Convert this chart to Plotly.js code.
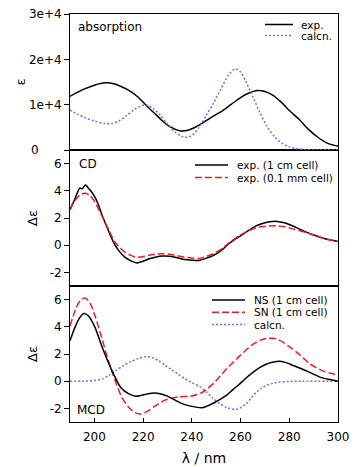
<!DOCTYPE html>
<html>
<head>
<meta charset="utf-8">
<script src="https://cdn.plot.ly/plotly-3.0.1.min.js"></script>
<style>html,body{margin:0;padding:0;background:#fff;}#chart{width:354px;height:467px;}</style>
</head>
<body>
<div id="chart"></div>
<script>
// ---------- Absorption panel ----------
const absExpLam = [190,193,196,200,204.5,208,211,215,218,221,225,228,231,235,238,241,244,248,252,256,260,263,267,270,273,277,280,284,288,292,296,300];
const absExpEps = [11850,12700,13480,14300,14810,14600,14000,12900,11630,10000,7930,6400,5150,4250,4300,4900,5800,7200,8450,10000,11550,12450,13100,12900,12150,10400,8700,6800,4500,2700,1400,850];

const absCalcLam = [190,193,196,200,204,207,210,213,216,219,221.5,224,227,230,233,236,238,240,243,246,249,252,255,257.8,260,262,265,268,271,274,277,280,283,287,292,300];
const absCalcEps = [8820,7900,7180,6400,5850,5800,6400,7500,8800,9700,9950,9200,7700,5700,4000,3000,2800,3200,5000,7700,10400,13500,16500,17900,17200,15300,11800,8200,5100,2900,1500,700,300,80,0,0];

// ---------- CD panel ----------
const cdExp1Lam = [190,191,192,193,194,195,196.4,197.5,198.5,200,201.5,203,205,207,208.5,210,212.5,215,217.5,220,222.5,225,228,231,234,237,240,243,246,249,252,254.5,257,260,263,266,269,272,275,278,281,284,287,290,293,296,300];
const cdExp1De  = [2.62,3.0,3.4,3.85,4.2,4.15,4.43,4.2,4.0,3.6,3.05,2.3,1.4,0.55,0.0,-0.4,-0.88,-1.15,-1.3,-1.18,-1.0,-0.88,-0.8,-0.82,-0.92,-1.05,-1.1,-1.12,-0.95,-0.74,-0.4,0.0,0.35,0.68,1.05,1.38,1.6,1.72,1.75,1.65,1.45,1.2,0.96,0.75,0.57,0.42,0.28];

const cdExp2Lam = [190,192,194,196,198,200.3,202,203.5,205.7,208.5,210.5,212.6,215,217,219,222,225,228,231,234,237,240,243,246,249,252,254.5,257,260,263,266,269,272,275,278,281,284,287,290,293,296,300];
const cdExp2De  = [2.62,3.28,3.68,3.82,3.68,3.16,2.55,2.0,1.2,0.22,-0.2,-0.51,-0.75,-0.88,-0.86,-0.76,-0.66,-0.62,-0.66,-0.78,-0.88,-0.95,-0.98,-0.82,-0.62,-0.3,0.05,0.4,0.76,1.03,1.25,1.37,1.42,1.42,1.35,1.22,1.08,0.92,0.75,0.57,0.42,0.28];

// ---------- MCD panel ----------
const mcdNSLam = [190,192,194,195.7,197.6,200.3,203,205.7,208.5,211,214,217,219,221.5,224.5,227,230,233,236,240,244,246,249,252,254.3,257,259.8,262.5,265.2,268,270.7,273.5,276.2,279,281.6,284.5,287.2,290,292.6,296,300];
const mcdNSDe  = [2.97,3.94,4.67,4.98,4.79,3.94,2.6,1.39,0.3,-0.5,-0.91,-1.1,-1.05,-0.95,-0.86,-0.92,-1.1,-1.38,-1.65,-1.85,-1.95,-1.85,-1.6,-1.3,-1.03,-0.6,-0.18,0.27,0.67,1.02,1.27,1.42,1.47,1.35,1.15,0.95,0.74,0.52,0.3,0.14,0.0];

const mcdSNLam = [190,192,194,196.2,198.2,200.3,203,205.7,208.5,211.2,213.9,216.7,218.8,221.5,224.9,229,234.5,240,244,246,248.8,251.5,254.3,257,259.8,262.5,265.2,268,270.7,273.5,275.5,277.6,280.3,283.1,285.8,288.5,291.2,294,297,300];
const mcdSNDe  = [4.06,5.15,5.88,6.12,5.76,4.79,3.21,1.52,0.06,-1.15,-1.88,-2.31,-2.41,-2.24,-1.83,-1.39,-1.15,-1.08,-0.85,-0.6,-0.18,0.35,0.91,1.4,1.88,2.33,2.73,3.0,3.14,3.16,3.05,2.85,2.5,2.12,1.7,1.27,0.98,0.74,0.58,0.47];

const mcdCalcLam = [190,195,200,203,206,209,212,215,218,221.5,224,226.3,229,231.7,234.5,237.2,240,243.4,246,248.8,251.5,254.3,258.4,262.5,264.5,266.6,268.5,270.7,273.5,276.2,280,285,300];
const mcdCalcDe  = [0,0,0.05,0.15,0.42,0.8,1.15,1.45,1.66,1.82,1.72,1.52,1.18,0.84,0.5,0.18,-0.1,-0.42,-0.8,-1.27,-1.65,-1.93,-2.07,-1.64,-1.2,-0.79,-0.5,-0.3,-0.15,-0.06,-0.02,0,0];

// tick labels
const xTicks = [200,220,240,260,280,300];
const absTickVals = [0,10000,20000,30000];
const absTickText = ['0\u00a0\u00a0\u00a0\u00a0\u00a0\u00a0','1e+4','2e+4','3e+4'];
const deTickVals = [-2,0,2,4,6];
const deTickText = ['-2','0','2','4','6'];

// legend / label texts
const absNames = ['exp.','calcn.'];
const cdNames = ['exp. (1 cm cell)','exp. (0.1 mm cell)'];
const mcdNames = ['NS (1 cm cell)','SN (1 cm cell)','calcn.'];

// ---------- styling ----------
const FONT = 'DejaVu Sans, Arial, sans-serif';
const BLACK = {color:'#000000', width:1.5};
const RED = {color:'#ee1c25', width:1.5, dash:'7px,3px'};
const BLUE = {color:'#6f6fe6', width:1.5, dash:'2px,2px'};

function tr(x, y, xa, ya, line, name){
  return {x:x, y:y, xaxis:xa, yaxis:ya, type:'scatter', mode:'lines', name:name,
          line:Object.assign({shape:'spline', smoothing:0.8}, line), showlegend:false, hoverinfo:'skip'};
}

const data = [
  tr(absExpLam, absExpEps, 'x3', 'y', BLACK, absNames[0]),
  tr(absCalcLam, absCalcEps, 'x3', 'y', BLUE, absNames[1]),
  tr(cdExp1Lam, cdExp1De, 'x2', 'y2', BLACK, cdNames[0]),
  tr(cdExp2Lam, cdExp2De, 'x2', 'y2', RED, cdNames[1]),
  tr(mcdCalcLam, mcdCalcDe, 'x', 'y3', BLUE, mcdNames[2]),
  tr(mcdSNLam, mcdSNDe, 'x', 'y3', RED, mcdNames[1]),
  tr(mcdNSLam, mcdNSDe, 'x', 'y3', BLACK, mcdNames[0])
];

// pixel -> paper helpers for legend/labels (plot area 70..338 x 14..422)
const L = 70, R = 16, T = 14, B = 45, W = 354, H = 467;
const PW = W - L - R, PH = H - T - B;
const px = X => (X - L) / PW;
const py = Y => 1 - (Y - T) / PH;

const shapes = [];
const annotations = [];
function legendItem(x0, x1, xt, y, line, text){
  shapes.push({type:'line', xref:'paper', yref:'paper', x0:px(x0), x1:px(x1), y0:py(y), y1:py(y),
               line:{color:line.color, width:line.width, dash:line.dash || 'solid'}});
  annotations.push({xref:'paper', yref:'paper', x:px(xt), y:py(y), xanchor:'left', yanchor:'middle',
                    text:text, showarrow:false, font:{family:FONT, size:10.5, color:'#000'}});
}
legendItem(265, 293, 299, 24.5, BLACK, absNames[0]);
legendItem(265, 293, 299, 35.5, BLUE, absNames[1]);
legendItem(195, 228, 235, 165, BLACK, cdNames[0]);
legendItem(195, 228, 235, 177.5, RED, cdNames[1]);
legendItem(212, 245, 252, 300, BLACK, mcdNames[0]);
legendItem(212, 245, 252, 312.3, RED, mcdNames[1]);
legendItem(212, 245, 252, 324.5, BLUE, mcdNames[2]);

function panelLabel(x, y, text){
  annotations.push({xref:'paper', yref:'paper', x:px(x), y:py(y), xanchor:'left', yanchor:'middle',
                    text:text, showarrow:false, font:{family:FONT, size:12, color:'#000'}});
}
panelLabel(76, 26.5, 'absorption');
panelLabel(77, 163.5, 'CD');
panelLabel(75, 410, 'MCD');

const axLine = {showline:true, linecolor:'#000', linewidth:1, mirror:true, showgrid:false, zeroline:false};
const tickFont = {family:FONT, size:12, color:'#000'};

const layout = {
  width:W, height:H,
  margin:{l:L, r:R, t:T, b:B, pad:0},
  paper_bgcolor:'#fff', plot_bgcolor:'#fff',
  showlegend:false,
  font:{family:FONT, color:'#000'},
  xaxis: Object.assign({}, axLine, {domain:[0,1], anchor:'y3', range:[190,300], tickmode:'array', tickvals:xTicks,
          ticks:'inside', ticklen:4, tickcolor:'#000', tickfont:tickFont, ticklabelstandoff:4,
          title:{text:'λ / nm', font:{family:FONT, size:14, color:'#000'}, standoff:9}}),
  xaxis2: Object.assign({}, axLine, {domain:[0,1], anchor:'y2', matches:'x', range:[190,300], showticklabels:false, ticks:''}),
  xaxis3: Object.assign({}, axLine, {domain:[0,1], anchor:'y', matches:'x', range:[190,300], showticklabels:false, ticks:''}),
  yaxis: Object.assign({}, axLine, {domain:[2/3,1], anchor:'x3', range:[0,30000], tickmode:'array', tickvals:absTickVals, ticktext:absTickText,
          ticks:'outside', ticklen:5, tickcolor:'#000', tickfont:tickFont,
          title:{text:'ε', font:{family:FONT, size:13, color:'#000'}, standoff:0}}),
  yaxis2: Object.assign({}, axLine, {domain:[1/3,2/3], anchor:'x2', range:[-3,7], tickmode:'array', tickvals:deTickVals, ticktext:deTickText,
          ticks:'outside', ticklen:5, tickcolor:'#000', tickfont:tickFont,
          title:{text:'Δε', font:{family:FONT, size:13, color:'#000'}, standoff:9}}),
  yaxis3: Object.assign({}, axLine, {domain:[0,1/3], anchor:'x', range:[-3,7], tickmode:'array', tickvals:deTickVals, ticktext:deTickText,
          ticks:'outside', ticklen:5, tickcolor:'#000', tickfont:tickFont,
          title:{text:'Δε', font:{family:FONT, size:13, color:'#000'}, standoff:9}}),
  shapes:shapes,
  annotations:annotations
};

Plotly.newPlot('chart', data, layout, {displayModeBar:false, staticPlot:true});
</script>
</body>
</html>
